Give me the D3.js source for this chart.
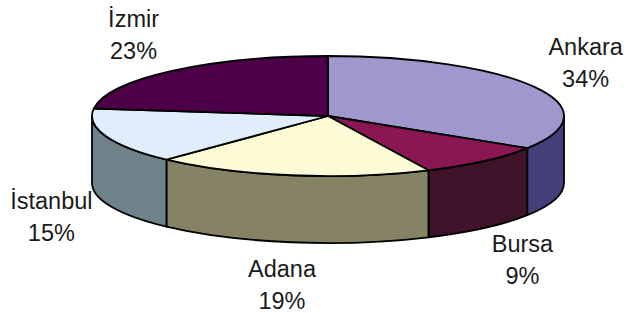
<!DOCTYPE html>
<html>
<head>
<meta charset="utf-8">
<script src="https://cdn.jsdelivr.net/npm/d3@7"></script>
<style>
  body { margin: 0; background: #fff; }
  text { font-family: "Liberation Sans", Arial, sans-serif; fill: #1a1a1a; }
</style>
</head>
<body>
<svg id="chart" width="627" height="313"></svg>
<script>
const cities = ["Ankara", "Bursa", "Adana", "İstanbul", "İzmir"];
const shares = [34, 9, 19, 15, 23];
const topColors = ["#9f97cd", "#8b1654", "#fdfbd6", "#dfeefa", "#4d0047"];
const sideColors = ["#45407a", "#3f1329", "#858364", "#6f8189", "#2a0027"];

const svg = d3.select("#chart");
const cx = 328, cy = 116;
const rx = 236, ry = 60;
const depth = 67;

const data = cities.map((c, i) => ({ city: c, value: shares[i], i }));

// angles clockwise from 12 o'clock
const pie = d3.pie()
    .value(d => d.value)
    .sort(null);
const arcs = pie(data);

const px = a => cx + rx * Math.sin(a);
const py = a => cy - ry * Math.cos(a);

function topPath(a0, a1) {
    const large = (a1 - a0) > Math.PI ? 1 : 0;
    return `M${cx},${cy} L${px(a0)},${py(a0)} A${rx},${ry} 0 ${large} 1 ${px(a1)},${py(a1)} Z`;
}

function sidePath(a0, a1) {
    return `M${px(a0)},${py(a0)} A${rx},${ry} 0 0 1 ${px(a1)},${py(a1)}` +
        ` L${px(a1)},${py(a1) + depth} A${rx},${ry} 0 0 0 ${px(a0)},${py(a0) + depth} Z`;
}

// front walls (only the half facing the viewer)
const front0 = Math.PI / 2, front1 = Math.PI * 1.5;
arcs.forEach(d => {
    const s0 = Math.max(d.startAngle, front0);
    const s1 = Math.min(d.endAngle, front1);
    if (s1 <= s0) return;
    svg.append("path")
        .attr("d", sidePath(s0, s1))
        .attr("fill", sideColors[d.data.i])
        .attr("stroke", "#000")
        .attr("stroke-width", 1.8)
        .attr("stroke-linejoin", "round");
});

// top faces
svg.selectAll("path.top")
    .data(arcs)
    .enter()
    .append("path")
    .attr("class", "top")
    .attr("d", d => topPath(d.startAngle, d.endAngle))
    .attr("fill", d => topColors[d.data.i])
    .attr("stroke", "#000")
    .attr("stroke-width", 1.8)
    .attr("stroke-linejoin", "round");

// labels
const lrx = rx + 58, lry = ry + 45;
arcs.forEach(d => {
    const m = (d.startAngle + d.endAngle) / 2;
    const x = cx + lrx * Math.sin(m);
    const y = cy + 6 - lry * Math.cos(m) + (Math.cos(m) < 0 ? depth : 0);
    const t = svg.append("text")
        .attr("text-anchor", "middle")
        .style("font-size", "23.5px");
    t.append("tspan").attr("x", x).attr("y", y - 16).text(d.data.city);
    t.append("tspan").attr("x", x).attr("y", y + 16).text(d.data.value + "%");
});
</script>
</body>
</html>
